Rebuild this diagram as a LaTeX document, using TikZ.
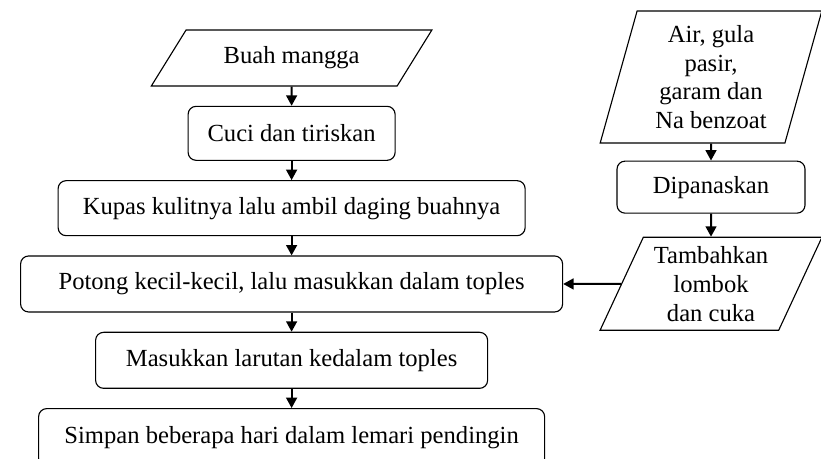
\documentclass[tikz,border=0pt]{standalone}
\usepackage{fontspec}
\setmainfont{Liberation Serif}
\usetikzlibrary{arrows.meta, positioning, shapes.geometric}

\begin{document}
\begin{tikzpicture}[
        node distance=0.48cm,
        every node/.style={font=\fontsize{17.5}{20.5}\selectfont},
        box/.style={draw, line width=0.8pt, rounded corners=0.2cm, align=center, minimum height=1.4cm, inner sep=0pt},
        io/.style={draw, line width=0.8pt, trapezium, trapezium stretches=true, align=center, inner sep=0pt},
        arrow/.style={-{Triangle[width=0.27cm, length=0.26cm]}, line width=1.4pt}
    ]
    
    \useasboundingbox (0,0) rectangle (20.525,-11.45);
    
    % Nodes - left column
    \node[io, trapezium left angle=45, trapezium right angle=135, minimum width=7.025cm, minimum height=1.4cm] (mangga) at (7.29,-1.45) {Buah mangga};
    \node[box, below=of mangga, minimum width=5.175cm, minimum height=1.35cm] (cuci) {Cuci dan tiriskan};
    \node[box, below=of cuci, minimum width=11.675cm, minimum height=1.375cm] (kupas) {Kupas kulitnya lalu ambil daging buahnya};
    \node[box, below=of kupas, minimum width=13.55cm] (potong) {Potong kecil-kecil, lalu masukkan dalam toples};
    \node[box, below=of potong, minimum width=9.8cm] (larutan) {Masukkan larutan kedalam toples};
    \node[box, below=of larutan, minimum width=12.65cm, minimum height=1.45cm] (simpan) {Simpan beberapa hari dalam lemari pendingin};
    
    % Nodes - right column
    \node[io, trapezium left angle=75, trapezium right angle=105, minimum width=5.55cm, minimum height=3.3cm] (bahan) at (17.775,-1.925) {Air, gula\\pasir,\\garam dan\\Na benzoat};
    \node[box, below=0.425cm of bahan, minimum width=4.7cm, minimum height=1.3cm] (panas) {Dipanaskan};
    \node[io, below=0.575cm of panas, trapezium left angle=64, trapezium right angle=116, minimum width=5.55cm, minimum height=2.325cm] (tambah) {Tambahkan\\lombok\\dan cuka};
    
    % Arrows - left column
    \draw[arrow] (mangga) -- (cuci);
    \draw[arrow] (cuci) -- (kupas);
    \draw[arrow] (kupas) -- (potong);
    \draw[arrow] (potong) -- (larutan);
    \draw[arrow] (larutan) -- (simpan);
    
    % Arrows - right column
    \draw[arrow] (bahan) -- (panas);
    \draw[arrow] (panas) -- (tambah);
    \draw[arrow] (tambah.west) -- (potong.east);
    
\end{tikzpicture}
\end{document}
